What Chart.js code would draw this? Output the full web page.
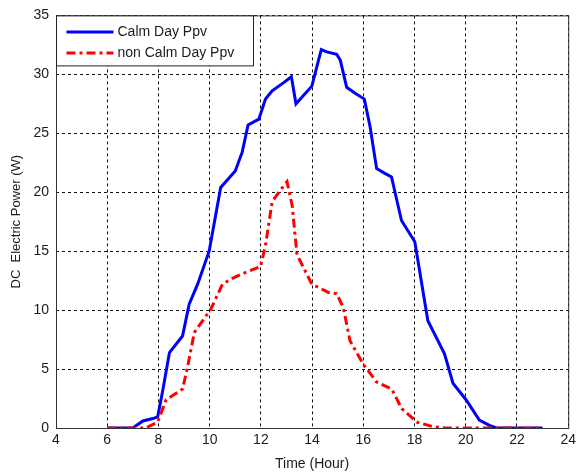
<!DOCTYPE html>
<html>
<head>
<meta charset="utf-8">
<script src="https://cdn.jsdelivr.net/npm/chart.js@4.4.1/dist/chart.umd.min.js"></script>
<style>
  html,body{margin:0;padding:0;background:#fff;}
  #wrap{width:580px;height:473px;position:relative;}
</style>
</head>
<body>
<div id="wrap"><canvas id="chart" width="580" height="473"></canvas></div>
<script>
// hourly PV power, calm vs non-calm day
const hoursCalm = [6, 7, 7.39, 7.78, 7.97, 8.17, 8.43, 8.94, 9.2, 9.53, 9.98, 10.43, 11.0, 11.27, 11.5, 11.92, 12.18, 12.44, 12.89, 13.19, 13.37, 13.99, 14.19, 14.36, 14.57, 14.96, 15.1, 15.35, 15.68, 16.04, 16.26, 16.52, 16.84, 17.1, 17.49, 18.01, 18.52, 19.17, 19.5, 20.01, 20.53, 20.98, 21.2, 23];
const powerCalm = [0, 0, 0.6, 0.8, 0.95, 3.2, 6.4, 7.8, 10.5, 12.2, 15.0, 20.4, 21.8, 23.4, 25.7, 26.2, 27.9, 28.6, 29.3, 29.8, 27.5, 29.0, 30.7, 32.1, 31.9, 31.7, 31.2, 28.9, 28.4, 27.9, 25.6, 22.0, 21.6, 21.3, 17.6, 15.8, 9.1, 6.3, 3.8, 2.4, 0.67, 0.17, 0, 0];
const hoursNonCalm = [6, 7.5, 7.97, 8.3, 8.94, 9.14, 9.4, 10.05, 10.5, 10.89, 11.41, 11.99, 12.18, 12.44, 12.77, 13.02, 13.22, 13.41, 13.99, 14.64, 14.96, 15.22, 15.48, 16.0, 16.52, 17.11, 17.5, 18.09, 18.74, 19.2, 23];
const powerNonCalm = [0, 0, 0.5, 2.4, 3.3, 5.2, 8.1, 10.1, 12.2, 12.7, 13.2, 13.7, 15.5, 19.2, 20.2, 20.9, 18.9, 14.7, 12.2, 11.5, 11.4, 10.2, 7.4, 5.4, 3.9, 3.3, 1.65, 0.5, 0.1, 0, 0];
const seriesNames = ['Calm Day Ppv', 'non Calm Day Ppv'];
const xTicks = [4, 6, 8, 10, 12, 14, 16, 18, 20, 22, 24];
const yTicks = [0, 5, 10, 15, 20, 25, 30, 35];

const pts = (xs, ys) => xs.map((x, i) => ({x, y: ys[i]}));
const FONT = 'Liberation Sans, Arial, sans-serif';
const INK = '#1b1b1b';

// box around the plot area + legend in the upper-left corner
const frame = {
  id: 'frame',
  afterDatasetsDraw(chart){
    const {ctx, chartArea:a} = chart;
    ctx.save();
    ctx.setLineDash([]);
    ctx.strokeStyle = '#333';
    ctx.lineWidth = 1;
    ctx.strokeRect(a.left + 0.5, a.top + 0.5, a.right - a.left, a.bottom - a.top);

    // legend
    const lx = a.left + 0.5, ly = a.top + 0.5, lw = 197, lh = 50;
    ctx.fillStyle = '#fff';
    ctx.fillRect(lx, ly, lw, lh);
    ctx.strokeStyle = '#222';
    ctx.strokeRect(lx, ly, lw, lh);
    ctx.font = '14px ' + FONT;
    ctx.textBaseline = 'middle';
    chart.data.datasets.forEach((ds, i) => {
      const yy = ly + 16 + i * 21;
      ctx.strokeStyle = ds.borderColor;
      ctx.lineWidth = ds.borderWidth;
      ctx.setLineDash(ds.borderDash || []);
      ctx.beginPath();
      ctx.moveTo(lx + 10, yy);
      ctx.lineTo(lx + 57, yy);
      ctx.stroke();
      ctx.setLineDash([]);
      ctx.fillStyle = INK;
      ctx.fillText(ds.label, lx + 61, yy);
    });
    ctx.restore();
  }
};

new Chart(document.getElementById('chart'), {
  type: 'line',
  data: {
    datasets: [
      {label: seriesNames[0], data: pts(hoursCalm, powerCalm), borderColor: '#0000ff', borderWidth: 3, pointRadius: 0, tension: 0, fill: false, order: 1},
      {label: seriesNames[1], data: pts(hoursNonCalm, powerNonCalm), borderColor: '#ff0000', borderWidth: 3, borderDash: [9, 4, 3, 4], pointRadius: 0, tension: 0, fill: false, order: 0}
    ]
  },
  options: {
    responsive: false,
    animation: false,
    layout: {padding: {left: 9, right: 9, top: 12, bottom: 0}},
    plugins: {legend: {display: false}, tooltip: {enabled: false}},
    scales: {
      x: {
        type: 'linear', min: 4, max: 24,
        afterBuildTicks: s => { s.ticks = xTicks.map(v => ({value: v})); },
        afterFit: s => { s.height = 45; },
        grid: {color: '#111', lineWidth: 1, drawTicks: false},
        border: {display: false, dash: [3, 3]},
        ticks: {color: INK, font: {family: FONT, size: 14}, padding: 4, maxRotation: 0, autoSkip: false},
        title: {display: true, text: 'Time (Hour)', color: INK, font: {family: FONT, size: 14}, padding: {top: 0, bottom: 0}}
      },
      y: {
        min: 0, max: 35,
        afterBuildTicks: s => { s.ticks = yTicks.map(v => ({value: v})); },
        afterFit: s => { s.width = 47; },
        grid: {color: '#111', lineWidth: 1, drawTicks: false},
        border: {display: false, dash: [3, 3]},
        ticks: {color: INK, font: {family: FONT, size: 14}, padding: 7},
        title: {display: true, text: 'DC  Electric Power (W)', color: INK, font: {family: FONT, size: 13}, padding: {top: 0, bottom: 4}}
      }
    }
  },
  plugins: [frame]
});
</script>
</body>
</html>
